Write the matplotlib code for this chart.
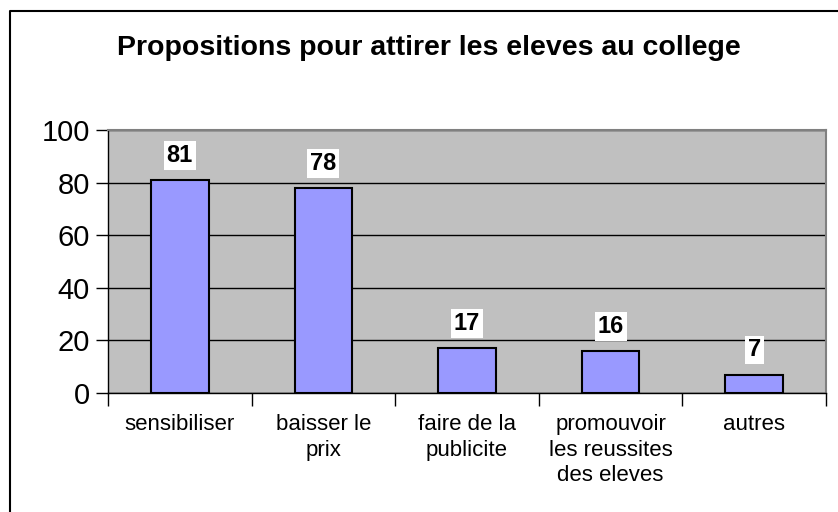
import matplotlib.pyplot as plt
from matplotlib.lines import Line2D

# chart data
categories = ["sensibiliser", "baisser le\nprix", "faire de la\npublicite",
              "promouvoir\nles reussites\ndes eleves", "autres"]
values = [81, 78, 17, 16, 7]
yticks = [0, 20, 40, 60, 80, 100]

plt.rcParams['font.family'] = ['Liberation Sans', 'DejaVu Sans']

W, H = 838, 512
fig = plt.figure(figsize=(W / 100, H / 100), dpi=100)
ax = fig.add_axes([108 / W, 1 - 393 / H, (826 - 108) / W, (393 - 130) / H])

ax.set_facecolor("#C0C0C0")
x = list(range(len(categories)))
ax.bar(x, values, width=0.4, color="#9999FF", edgecolor="black", linewidth=1.5, zorder=3)

for xi, v in zip(x, values):
    ax.text(xi, v + 5, str(v), ha="center", va="bottom", fontsize=17, fontweight="bold",
            bbox=dict(facecolor="white", edgecolor="none", pad=2), zorder=4)

ax.set_xlim(-0.5, len(categories) - 0.5)
ax.set_ylim(0, 100)
ax.set_yticks(yticks)
ax.set_yticklabels([str(t) for t in yticks], fontsize=21)
ax.yaxis.grid(True, color="black", linewidth=1, zorder=1)
ax.tick_params(axis="y", length=9, width=1, pad=4)

# category labels between boundary ticks
ax.set_xticks([i - 0.5 for i in range(len(categories) + 1)])
ax.set_xticklabels([])
ax.tick_params(axis="x", length=9, width=1)
ax.set_xticks(x, minor=True)
ax.set_xticklabels(categories, minor=True, fontsize=16, linespacing=1.3, va="top")
ax.tick_params(axis="x", which="minor", length=0, pad=15)

for s in ["left", "bottom"]:
    ax.spines[s].set_color("black")
    ax.spines[s].set_linewidth(1)
for s in ["top", "right"]:
    ax.spines[s].set_color("#808080")
    ax.spines[s].set_linewidth(1.5)

fig.text(429 / W, 1 - 48 / H, "Propositions pour attirer les eleves au college",
         ha="center", va="center", fontsize=20.5, fontweight="bold")

# outer chart border (only top and left visible)
fig.add_artist(Line2D([10 / W, 10 / W, 1.1], [-0.1, 1 - 11 / H, 1 - 11 / H],
                      transform=fig.transFigure, color="black", linewidth=1.5))

fig.savefig("out.png", dpi=100)
